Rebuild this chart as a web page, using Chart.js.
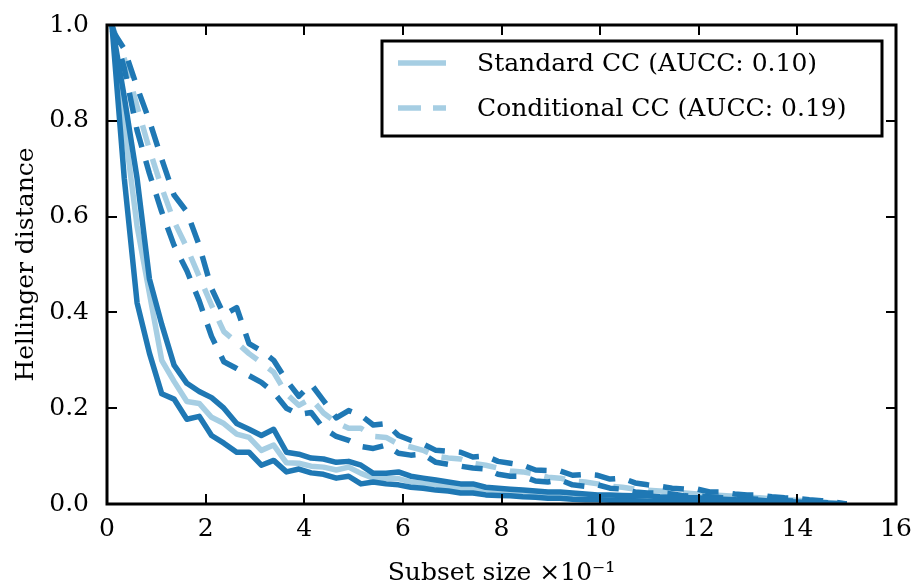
<!DOCTYPE html>
<html>
<head>
<meta charset="utf-8">
<script src="https://cdn.jsdelivr.net/npm/chart.js@4.4.1/dist/chart.umd.min.js"></script>
<style>
  html, body { margin: 0; padding: 0; background: #fff; }
  canvas { display: block; }
</style>
</head>
<body>
<canvas id="cc-chart" width="916" height="588"></canvas>
<script>
// subset sizes (x10^-1)
const subsetSizes = [
  0.10, 0.35, 0.61, 0.86, 1.11, 1.36, 1.62, 1.87, 2.12, 2.37,
  2.63, 2.88, 3.13, 3.38, 3.64, 3.89, 4.14, 4.39, 4.65, 4.90,
  5.15, 5.40, 5.66, 5.91, 6.16, 6.41, 6.67, 6.92, 7.17, 7.42,
  7.68, 7.93, 8.18, 8.43, 8.69, 8.94, 9.19, 9.44, 9.70, 9.95,
  10.20, 10.45, 10.71, 10.96, 11.21, 11.46, 11.72, 11.97, 12.22, 12.47,
  12.73, 12.98, 13.23, 13.48, 13.74, 13.99, 14.24, 14.49, 14.75, 15.00
];

// standard CC: mean and band
const stdMean = [
  1.00, 0.79, 0.58, 0.44, 0.300, 0.256, 0.214, 0.210, 0.181, 0.168,
  0.146, 0.139, 0.112, 0.123, 0.086, 0.085, 0.079, 0.077, 0.071, 0.077,
  0.064, 0.054, 0.053, 0.053, 0.046, 0.043, 0.040, 0.036, 0.033, 0.032,
  0.027, 0.026, 0.024, 0.022, 0.020, 0.019, 0.018, 0.016, 0.015, 0.014,
  0.013, 0.012, 0.012, 0.011, 0.010, 0.009, 0.009, 0.008, 0.007, 0.007,
  0.006, 0.005, 0.005, 0.004, 0.003, 0.003, 0.002, 0.001, 0.001, 0.000
];
const stdUpper = [
  1.00, 0.85, 0.68, 0.47, 0.375, 0.290, 0.252, 0.235, 0.222, 0.200,
  0.168, 0.156, 0.143, 0.156, 0.108, 0.104, 0.096, 0.094, 0.087, 0.089,
  0.081, 0.064, 0.064, 0.067, 0.058, 0.054, 0.050, 0.046, 0.042, 0.042,
  0.035, 0.033, 0.031, 0.029, 0.027, 0.025, 0.025, 0.023, 0.021, 0.019,
  0.019, 0.018, 0.017, 0.017, 0.015, 0.014, 0.013, 0.013, 0.011, 0.010,
  0.009, 0.008, 0.008, 0.006, 0.005, 0.004, 0.003, 0.002, 0.001, 0.000
];
const stdLower = [
  1.00, 0.68, 0.42, 0.315, 0.230, 0.219, 0.177, 0.183, 0.143, 0.127,
  0.108, 0.108, 0.081, 0.091, 0.067, 0.073, 0.065, 0.062, 0.054, 0.058,
  0.042, 0.046, 0.042, 0.040, 0.035, 0.033, 0.029, 0.027, 0.023, 0.023,
  0.019, 0.018, 0.017, 0.015, 0.014, 0.012, 0.012, 0.010, 0.009, 0.009,
  0.008, 0.007, 0.007, 0.006, 0.005, 0.005, 0.004, 0.004, 0.003, 0.003,
  0.002, 0.002, 0.002, 0.001, 0.001, 0.001, 0.000, 0.000, 0.000, 0.000
];

// conditional CC: mean and band
const condMean = [
  1.00, 0.93, 0.83, 0.74, 0.66, 0.59, 0.535, 0.475, 0.415, 0.360,
  0.337, 0.314, 0.295, 0.275, 0.230, 0.206, 0.220, 0.190, 0.170, 0.158,
  0.158, 0.141, 0.139, 0.125, 0.119, 0.112, 0.100, 0.096, 0.094, 0.085,
  0.081, 0.075, 0.069, 0.067, 0.062, 0.056, 0.054, 0.048, 0.046, 0.042,
  0.037, 0.035, 0.031, 0.029, 0.027, 0.025, 0.023, 0.021, 0.019, 0.018,
  0.016, 0.014, 0.013, 0.011, 0.009, 0.008, 0.006, 0.004, 0.002, 0.000
];
const condUpper = [
  0.99, 0.95, 0.87, 0.80, 0.72, 0.645, 0.61, 0.54, 0.45, 0.395,
  0.410, 0.335, 0.320, 0.300, 0.258, 0.225, 0.250, 0.216, 0.180, 0.195,
  0.185, 0.165, 0.168, 0.143, 0.133, 0.125, 0.112, 0.110, 0.108, 0.098,
  0.100, 0.089, 0.085, 0.081, 0.071, 0.070, 0.069, 0.060, 0.062, 0.060,
  0.052, 0.054, 0.044, 0.040, 0.037, 0.033, 0.031, 0.031, 0.025, 0.025,
  0.021, 0.019, 0.019, 0.015, 0.013, 0.012, 0.009, 0.007, 0.004, 0.000
];
const condLower = [
  1.00, 0.91, 0.78, 0.69, 0.61, 0.54, 0.487, 0.424, 0.350, 0.297,
  0.283, 0.268, 0.254, 0.233, 0.200, 0.187, 0.191, 0.158, 0.141, 0.133,
  0.120, 0.116, 0.123, 0.106, 0.102, 0.104, 0.087, 0.083, 0.079, 0.075,
  0.073, 0.062, 0.058, 0.058, 0.048, 0.046, 0.050, 0.040, 0.037, 0.040,
  0.033, 0.031, 0.025, 0.023, 0.023, 0.021, 0.017, 0.016, 0.015, 0.013,
  0.012, 0.011, 0.010, 0.008, 0.007, 0.006, 0.004, 0.003, 0.002, 0.000
];

const legendLabels = ["Standard CC (AUCC: 0.10)", "Conditional CC (AUCC: 0.19)"];
const xTicks = [0, 2, 4, 6, 8, 10, 12, 14, 16];
const yTicks = [0.0, 0.2, 0.4, 0.6, 0.8, 1.0];

const DARK = "#1f78b4";
const LIGHT = "#a6cee3";
const DASH = [21, 14];
const FONT = "'DejaVu Serif', 'Liberation Serif', serif";

function series(label, values, color, dashed, order) {
  return {
    label: label,
    data: subsetSizes.map((x, i) => ({ x: x, y: values[i] })),
    borderColor: color,
    borderWidth: 5.5,
    borderDash: dashed ? DASH : [],
    borderCapStyle: "butt",
    borderJoinStyle: "round",
    pointRadius: 0,
    fill: false,
    tension: 0,
    order: order,
  };
}

// inward ticks on all four sides plus the box
const frame = {
  id: "frame",
  afterDatasetsDraw(chart) {
    const { ctx, chartArea: a, scales } = chart;
    ctx.save();
    ctx.strokeStyle = "#000";
    ctx.lineWidth = 2;
    ctx.beginPath();
    xTicks.forEach(v => {
      const px = Math.round(scales.x.getPixelForValue(v));
      ctx.moveTo(px, a.bottom); ctx.lineTo(px, a.bottom - 10);
      ctx.moveTo(px, a.top); ctx.lineTo(px, a.top + 10);
    });
    yTicks.forEach(v => {
      const py = Math.round(scales.y.getPixelForValue(v));
      ctx.moveTo(a.left, py); ctx.lineTo(a.left + 10, py);
      ctx.moveTo(a.right, py); ctx.lineTo(a.right - 10, py);
    });
    ctx.stroke();
    ctx.lineWidth = 3;
    ctx.strokeRect(a.left, a.top, a.right - a.left, a.bottom - a.top);
    ctx.restore();
  },
  afterDraw(chart) {
    const { ctx, chartArea: a } = chart;
    const box = { x: a.right - 514, y: a.top + 16, w: 500, h: 95 };
    ctx.save();
    ctx.fillStyle = "#fff";
    ctx.fillRect(box.x, box.y, box.w, box.h);
    ctx.strokeStyle = "#000";
    ctx.lineWidth = 3;
    ctx.strokeRect(box.x, box.y, box.w, box.h);
    ctx.font = "25px " + FONT;
    ctx.textBaseline = "alphabetic";
    ctx.textAlign = "left";
    legendLabels.forEach((lbl, i) => {
      const ly = box.y + 22 + i * 45;
      ctx.strokeStyle = LIGHT;
      ctx.lineWidth = 5.5;
      ctx.lineCap = "butt";
      ctx.setLineDash(i === 1 ? [23, 12] : []);
      ctx.beginPath();
      ctx.moveTo(box.x + 16, ly);
      ctx.lineTo(box.x + 64, ly);
      ctx.stroke();
      ctx.setLineDash([]);
      ctx.fillStyle = "#000";
      ctx.fillText(lbl, box.x + 95, ly + 8);
    });
    ctx.restore();
  }
};

new Chart(document.getElementById("cc-chart"), {
  type: "line",
  data: {
    datasets: [
      series("Standard CC upper", stdUpper, DARK, false, 1),
      series("Standard CC lower", stdLower, DARK, false, 1),
      series(legendLabels[0], stdMean, LIGHT, false, 2),
      series("Conditional CC upper", condUpper, DARK, true, 1),
      series("Conditional CC lower", condLower, DARK, true, 1),
      series(legendLabels[1], condMean, LIGHT, true, 2),
    ],
  },
  options: {
    responsive: false,
    animation: false,
    devicePixelRatio: 1,
    layout: { padding: { top: 23, right: 20, left: 0, bottom: 0 } },
    plugins: { legend: { display: false }, tooltip: { enabled: false } },
    scales: {
      x: {
        type: "linear",
        min: 0,
        max: 16,
        afterFit: s => { s.height = 84; },
        afterBuildTicks: s => { s.ticks = xTicks.map(v => ({ value: v })); },
        ticks: { color: "#000", padding: 2, font: { family: FONT, size: 25 } },
        grid: { display: false },
        border: { display: false },
        title: {
          display: true,
          text: "Subset size ×10⁻¹",
          color: "#000",
          font: { family: FONT, size: 25, lineHeight: 1.2 },
          padding: { top: 0, bottom: 0 },
        },
      },
      y: {
        type: "linear",
        min: 0,
        max: 1,
        afterFit: s => { s.width = 107; },
        afterBuildTicks: s => { s.ticks = yTicks.map(v => ({ value: v })); },
        ticks: {
          color: "#000",
          padding: 10,
          font: { family: FONT, size: 25 },
          callback: v => v.toFixed(1),
        },
        grid: { display: false },
        border: { display: false },
        title: {
          display: true,
          text: "Hellinger distance",
          color: "#000",
          font: { family: FONT, size: 25, lineHeight: 1.2 },
          padding: { top: 11, bottom: 0 },
        },
      },
    },
  },
  plugins: [frame],
});
</script>
</body>
</html>
